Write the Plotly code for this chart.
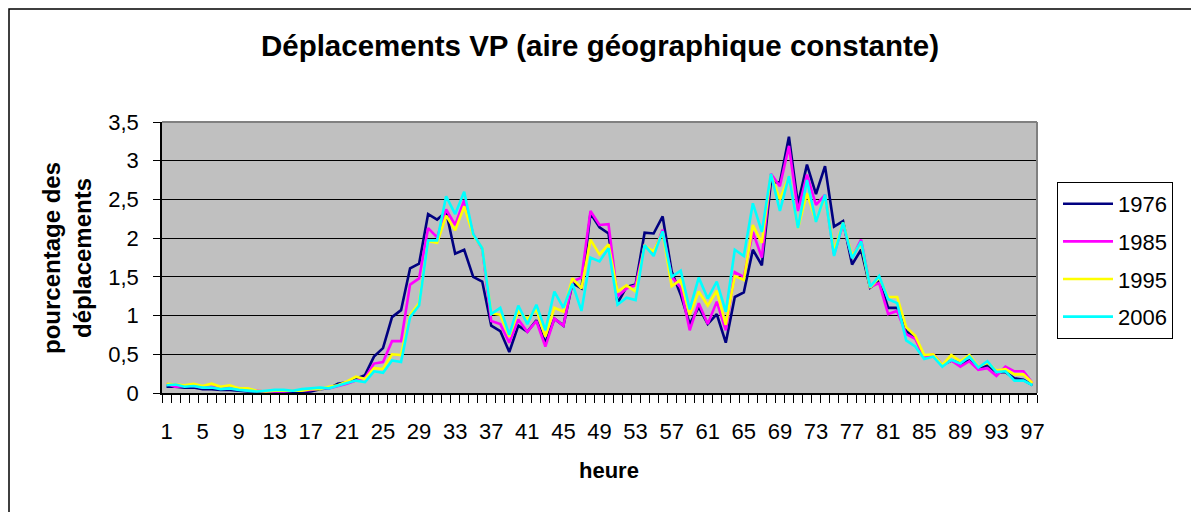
import plotly.graph_objects as go

FONT = "Liberation Sans, Arial, sans-serif"

heures = list(range(1, 98))
x_labels = [1, 5, 9, 13, 17, 21, 25, 29, 33, 37, 41, 45, 49, 53, 57, 61, 65, 69, 73, 77, 81, 85, 89, 93, 97]

vp_1976 = [
    0.08, 0.08, 0.07, 0.07, 0.05, 0.05, 0.04, 0.04, 0.03, 0.02,
    0.02, 0.01, 0.01, 0.01, 0.01, 0.01, 0.02, 0.05, 0.06, 0.12,
    0.14, 0.19, 0.23, 0.47, 0.58, 0.98, 1.07, 1.61, 1.67, 2.31,
    2.24, 2.34, 1.80, 1.85, 1.50, 1.44, 0.87, 0.80, 0.53, 0.87,
    0.79, 0.94, 0.65, 0.96, 0.87, 1.42, 1.35, 2.32, 2.14, 2.06,
    1.16, 1.37, 1.40, 2.07, 2.06, 2.28, 1.57, 1.27, 0.89, 1.11,
    0.89, 1.02, 0.65, 1.24, 1.30, 1.85, 1.65, 2.72, 2.72, 3.31,
    2.44, 2.95, 2.57, 2.93, 2.15, 2.22, 1.66, 1.85, 1.36, 1.45,
    1.10, 1.10, 0.80, 0.72, 0.46, 0.49, 0.36, 0.42, 0.38, 0.42,
    0.31, 0.36, 0.27, 0.27, 0.19, 0.17, 0.10,
]
vp_1985 = [
    0.12, 0.08, 0.09, 0.09, 0.07, 0.08, 0.07, 0.07, 0.05, 0.03,
    0.03, 0.02, 0.02, 0.02, 0.03, 0.03, 0.04, 0.06, 0.06, 0.09,
    0.12, 0.16, 0.19, 0.38, 0.40, 0.67, 0.67, 1.40, 1.48, 2.13,
    2.01, 2.37, 2.17, 2.49, 2.05, 1.86, 0.93, 0.89, 0.65, 0.95,
    0.79, 0.93, 0.60, 0.96, 0.87, 1.44, 1.49, 2.35, 2.17, 2.18,
    1.25, 1.35, 1.39, 1.90, 1.81, 2.11, 1.50, 1.36, 0.81, 1.16,
    0.89, 1.18, 0.81, 1.56, 1.50, 2.08, 1.75, 2.83, 2.67, 3.19,
    2.35, 2.82, 2.43, 2.56, 1.79, 2.18, 1.75, 1.98, 1.37, 1.42,
    1.02, 1.06, 0.76, 0.70, 0.46, 0.50, 0.36, 0.42, 0.34, 0.41,
    0.30, 0.32, 0.22, 0.34, 0.28, 0.28, 0.13,
]
vp_1995 = [
    0.12, 0.11, 0.10, 0.12, 0.09, 0.12, 0.08, 0.10, 0.06, 0.06,
    0.03, 0.02, 0.03, 0.03, 0.03, 0.03, 0.05, 0.05, 0.08, 0.10,
    0.15, 0.21, 0.18, 0.32, 0.31, 0.50, 0.49, 1.01, 1.16, 1.96,
    1.94, 2.29, 2.10, 2.41, 2.04, 1.87, 1.03, 1.01, 0.73, 1.06,
    0.95, 1.08, 0.73, 1.10, 1.05, 1.48, 1.35, 1.98, 1.79, 1.92,
    1.31, 1.39, 1.31, 1.90, 1.83, 2.08, 1.38, 1.46, 1.01, 1.31,
    1.13, 1.32, 0.88, 1.51, 1.46, 2.17, 1.94, 2.82, 2.50, 2.80,
    2.13, 2.58, 2.22, 2.54, 1.83, 2.20, 1.77, 1.94, 1.36, 1.49,
    1.24, 1.24, 0.85, 0.74, 0.49, 0.50, 0.36, 0.49, 0.41, 0.49,
    0.34, 0.39, 0.29, 0.31, 0.24, 0.24, 0.13,
]
vp_2006 = [
    0.10, 0.11, 0.08, 0.09, 0.07, 0.07, 0.05, 0.06, 0.04, 0.03,
    0.02, 0.03, 0.04, 0.04, 0.03, 0.05, 0.06, 0.07, 0.06, 0.10,
    0.13, 0.16, 0.14, 0.28, 0.26, 0.42, 0.40, 0.98, 1.13, 1.97,
    1.97, 2.54, 2.31, 2.60, 2.05, 1.87, 1.02, 1.10, 0.75, 1.13,
    0.89, 1.14, 0.81, 1.31, 1.10, 1.41, 1.06, 1.75, 1.70, 1.87,
    1.14, 1.23, 1.20, 1.91, 1.77, 2.09, 1.50, 1.58, 1.08, 1.49,
    1.22, 1.44, 1.05, 1.85, 1.77, 2.45, 2.08, 2.83, 2.35, 2.80,
    2.13, 2.75, 2.21, 2.56, 1.77, 2.20, 1.74, 1.96, 1.37, 1.51,
    1.21, 1.16, 0.68, 0.60, 0.44, 0.47, 0.34, 0.43, 0.38, 0.47,
    0.33, 0.41, 0.27, 0.28, 0.16, 0.16, 0.10,
]

series = [
    ("1976", vp_1976, "#000080"),
    ("1985", vp_1985, "#FF00FF"),
    ("1995", vp_1995, "#FFFF00"),
    ("2006", vp_2006, "#00FFFF"),
]

# the page body has an 8px margin, so the figure is drawn 8px smaller
OFF = 8
FIG_W, FIG_H = 1199 - OFF, 512 - OFF

# plot area in screen pixels (Excel layout)
L, R, T, B = 162, 1037, 122, 393
W, H = R - L, B - T


def px_x(p):
    return (p - L) / W


def px_y(p):
    return (B - p) / H


fig = go.Figure()
for name, values, color in series:
    fig.add_trace(
        go.Scatter(
            x=heures,
            y=values,
            mode="lines",
            name=name,
            legendgroup=name,
            line=dict(color=color, width=2.6),
        )
    )

fig.update_layout(
    width=FIG_W,
    height=FIG_H,
    margin=dict(l=L - OFF, r=FIG_W - (R - OFF), t=T - OFF, b=FIG_H - (B - OFF), pad=0),
    paper_bgcolor="white",
    plot_bgcolor="#C0C0C0",
    separators=", ",
    font=dict(family=FONT, color="black", size=22),
    title=dict(
        text="<b>Déplacements VP (aire géographique constante)</b>",
        font=dict(family=FONT, size=29.5, color="black"),
        x=px_x(600),
        xref="paper",
        xanchor="center",
        y=1 - (46 - OFF) / FIG_H,
        yanchor="middle",
    ),
    showlegend=True,
    legend=dict(
        x=px_x(1057),
        y=px_y(182),
        xanchor="left",
        yanchor="top",
        bgcolor="white",
        bordercolor="black",
        borderwidth=1,
        font=dict(family=FONT, size=22, color="black"),
        tracegroupgap=6,
        itemwidth=50,
    ),
    xaxis=dict(
        range=[0.5, 97.5],
        tickmode="array",
        tickvals=x_labels,
        ticktext=[str(v) for v in x_labels],
        ticks="",
        ticklabelstandoff=18,
        showgrid=False,
        zeroline=False,
        showline=True,
        linecolor="black",
        linewidth=1.5,
        tickfont=dict(family=FONT, size=22),
        minor=dict(
            tickmode="linear",
            tick0=0.5,
            dtick=1,
            ticks="outside",
            ticklen=8,
            tickcolor="black",
            tickwidth=1,
            showgrid=False,
        ),
    ),
    yaxis=dict(
        range=[0, 3.5],
        dtick=0.5,
        ticks="outside",
        ticklen=7,
        tickcolor="black",
        ticklabelstandoff=10,
        showgrid=True,
        gridcolor="black",
        gridwidth=1,
        zeroline=False,
        showline=True,
        linecolor="black",
        linewidth=1.5,
        tickfont=dict(family=FONT, size=22),
    ),
    shapes=[
        dict(type="line", xref="paper", yref="paper", x0=0, x1=1, y0=1, y1=1,
             line=dict(color="#808080", width=2)),
        dict(type="line", xref="paper", yref="paper", x0=1, x1=1, y0=0, y1=1,
             line=dict(color="#808080", width=2)),
        # outer chart frame; its bottom edge falls below the visible page
        dict(type="rect", xref="paper", yref="paper",
             x0=px_x(9), x1=px_x(1193), y0=px_y(520), y1=px_y(9),
             line=dict(color="black", width=1.5)),
    ],
    annotations=[
        dict(
            text="<b>pourcentage des<br>déplacements</b>",
            textangle=-90,
            x=px_x(67),
            y=px_y(258),
            xref="paper",
            yref="paper",
            xanchor="center",
            yanchor="middle",
            showarrow=False,
            font=dict(family=FONT, size=24, color="black"),
        ),
        dict(
            text="<b>heure</b>",
            x=px_x(609),
            y=px_y(470),
            xref="paper",
            yref="paper",
            xanchor="center",
            yanchor="middle",
            showarrow=False,
            font=dict(family=FONT, size=22, color="black"),
        ),
    ],
)

fig.write_html("out.html")
